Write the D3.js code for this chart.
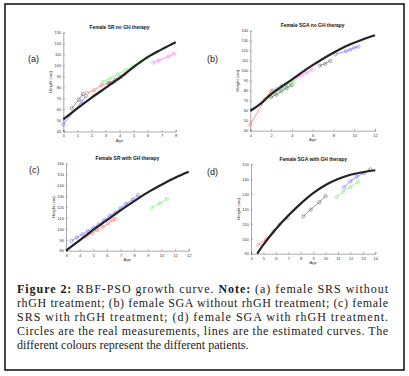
<!DOCTYPE html>
<html>
<head>
<meta charset="utf-8">
<script src="https://cdn.jsdelivr.net/npm/d3@7"></script>
<style>
  body { margin: 0; background: #fff; }
  svg { display: block; }
</style>
</head>
<body>
<div id="vis"></div>
<script>
// panel (a) female SR no GH therapy
const aCurve = [[0,51],[1,61],[2,70.5],[3,79.5],[4,88.5],[5,98.5],[6,107.5],[7,114.5],[8,121]]
const aBlue = [[0,46.5],[1.3,67],[1.6,72]]
const aGray1 = [[0.6,61],[1.1,69],[1.4,74]]
const aRed = [[1.7,75],[2.2,77.5],[2.7,82],[3.3,84],[3.9,88],[4.4,92]]
const aGreen = [[2.8,85],[3.3,88],[3.9,92],[4.5,96],[5,100],[5.5,103],[6,107],[6.7,112]]
const aGray2 = [[3.2,84],[3.7,87],[4.1,89.5]]
const aMagenta = [[6.4,102.5],[6.8,104.5],[7.5,108],[7.9,110.5]]

// panel (b) female SGA no GH therapy
const bCurve = [[0,60],[1,67],[1.5,72],[2,76.5],[3,84],[4,91],[5,98.5],[6,105.5],[7,112],[8,118],[9,123.5],[10,128],[11,132],[12,135.5]]
const bRed = [[0,46],[1.4,71],[2,80]]
const bGreen = [[1.5,72],[1.8,74],[2.1,76],[2.4,78],[2.7,80],[3,82],[3.3,83.5],[3.6,85.5],[3.9,87.5],[4.2,89]]
const bBlue1 = [[2.2,80],[2.6,82],[3,84.5],[3.4,86]]
const bGray1 = [[2,73.5],[2.5,76],[3,79.5],[3.5,82.5],[4,85.5]]
const bMagenta = [[4.4,93],[4.9,95.5],[5.4,98],[6,101]]
const bGray2 = [[6.7,105],[7.2,107],[7.7,110]]
const bBlue2 = [[8.2,116.5],[9.2,119.5],[9.6,121],[10,123],[10.4,124]]

// panel (c) female SR with GH therapy
const cCurve = [[3,80],[4,89.5],[5,99],[6,108],[7,117],[8,125.5],[9,133.5],[10,140.5],[11,147],[12,152.5]]
const cBlue = [[3.4,89],[3.8,92],[4.2,95],[4.6,98],[5,101],[5.4,104],[5.8,108],[6.2,112],[6.6,115],[7,119],[7.4,123],[7.9,127],[8.3,131]]
const cRed = [[4.5,93],[4.9,96],[5.3,99],[5.7,102],[6.1,105],[6.4,108],[6.6,109]]
const cGreen = [[9.3,119.5],[9.9,123.5],[10.4,127.5]]

// panel (d) female SGA with GH therapy
const dCurve = [[4.5,90],[5,96],[6,106.5],[7,115.5],[8,123.5],[9,130.5],[10,136],[11,140],[12,142.8],[13,144.5],[14,145.8]]
const dRed = [[4.6,96],[5.2,99.5],[5.8,105],[6.3,109.5],[7,114]]
const dGray = [[8.2,115],[8.8,119.5],[9.5,124.5],[10,128.5]]
const dGreen = [[10.9,128],[11.4,131.5],[12,134.5],[12.6,138]]
const dBlue = [[11.5,134.5],[12,138.5],[12.5,141.5],[13.1,144],[13.6,146.5]]

const captionLines = [
    "rhGH treatment; (b) female SGA without rhGH treatment; (c) female",
    "SRS with rhGH treatment; (d) female SGA with rhGH treatment.",
    "Circles are the real measurements, lines are the estimated curves. The",
    "different colours represent the different patients."
]

const blue = "#6f6fff", red = "#ff6f6f", green = "#6fee6f", gray = "#666", magenta = "#ff70ff"

const panels = [
    { label: "(a)", lx: 28, ly: 62, title: "Female SR no GH therapy",
      x: [63.3, 175.7], y: [131.5, 32.3], xd: [0, 8], yd: [40, 130],
      xt: d3.range(0, 9, 1), yt: d3.range(40, 131, 10), curve: aCurve,
      series: [[aBlue, blue], [aGray1, gray], [aRed, red], [aGreen, green], [aGray2, gray], [aMagenta, magenta]] },
    { label: "(b)", lx: 207, ly: 62, title: "Female SGA no GH therapy",
      x: [250.3, 375], y: [130.7, 30.7], xd: [0, 12], yd: [40, 140],
      xt: d3.range(0, 13, 2), yt: d3.range(40, 141, 10), curve: bCurve,
      series: [[bRed, red], [bGreen, green], [bBlue1, blue], [bGray1, gray], [bMagenta, magenta], [bGray2, gray], [bBlue2, blue]] },
    { label: "(c)", lx: 29, ly: 173, title: "Female SR with GH therapy",
      x: [66, 188.7], y: [250.7, 163.5], xd: [3, 12], yd: [80, 160],
      xt: d3.range(3, 13, 1), yt: d3.range(80, 161, 10), curve: cCurve,
      series: [[cBlue, blue], [cRed, red], [cGreen, green]] },
    { label: "(d)", lx: 207, ly: 175, title: "Female SGA with GH therapy",
      x: [251, 375.3], y: [253.7, 164], xd: [4, 14], yd: [90, 150],
      xt: d3.range(4, 15, 1), yt: d3.range(90, 151, 10), curve: dCurve,
      series: [[dRed, red], [dGray, gray], [dGreen, green], [dBlue, blue]] }
]

var svg = d3.select("#vis")
    .append("svg")
    .attr("width", 409)
    .attr("height", 376)

svg.append("rect")
    .attr("x", 5).attr("y", 4)
    .attr("width", 399).attr("height", 366)
    .attr("fill", "#fff")
    .attr("stroke", "#1a1a1a")
    .attr("stroke-width", 1.6)

panels.forEach(p => {
    var x = d3.scaleLinear().domain(p.xd).range(p.x)
    var y = d3.scaleLinear().domain(p.yd).range(p.y)
    var g = svg.append("g").attr("font-family", "Arial, 'Liberation Sans', sans-serif")

    var yAxis = g.append("g")
        .attr("transform", `translate(${p.x[0]},0)`)
        .call(d3.axisLeft(y).tickValues(p.yt).tickSize(-1.5).tickPadding(2))
    var xAxis = g.append("g")
        .attr("transform", `translate(0,${p.y[0]})`)
        .call(d3.axisBottom(x).tickValues(p.xt).tickSize(-1.5).tickPadding(3))
    ;[xAxis, yAxis].forEach(a => {
        a.selectAll("path, line").attr("stroke", "#555").attr("stroke-width", 0.5)
        a.selectAll("text").attr("font-size", 4).attr("fill", "#333")
    })

    g.append("text")
        .attr("x", (p.x[0] + p.x[1]) / 2).attr("y", p.y[1] - 3.5)
        .attr("text-anchor", "middle")
        .attr("font-size", 4.9).attr("font-weight", "bold").attr("fill", "#111")
        .text(p.title)
    g.append("text")
        .attr("transform", `translate(${p.x[0] - 11},${(p.y[0] + p.y[1]) / 2}) rotate(-90)`)
        .attr("text-anchor", "middle")
        .attr("font-size", 4.2).attr("fill", "#333")
        .text("Height (cm)")
    g.append("text")
        .attr("x", (p.x[0] + p.x[1]) / 2).attr("y", p.y[0] + 10)
        .attr("text-anchor", "middle")
        .attr("font-size", 4.2).attr("fill", "#333")
        .text("Age")

    var line = d3.line().x(d => x(d[0])).y(d => y(d[1]))

    p.series.forEach(([pts, col]) => {
        g.append("path")
            .attr("d", line(pts))
            .attr("fill", "none").attr("stroke", col).attr("stroke-width", 0.7)
        g.selectAll(null).data(pts).join("circle")
            .attr("cx", d => x(d[0])).attr("cy", d => y(d[1]))
            .attr("r", 1.6)
            .attr("fill", "none").attr("stroke", col).attr("stroke-width", 0.6)
    })

    g.append("path")
        .attr("d", line.curve(d3.curveMonotoneX)(p.curve))
        .attr("fill", "none").attr("stroke", "#222").attr("stroke-width", 2.2)

    svg.append("text")
        .attr("x", p.lx).attr("y", p.ly)
        .attr("font-family", "Arial, 'Liberation Sans', sans-serif")
        .attr("font-size", 9).attr("fill", "#222")
        .text(p.label)
})

// caption, justified line by line
var cap = svg.append("g")
    .attr("font-family", "'Liberation Serif', 'DejaVu Serif', serif")
    .attr("font-size", 12).attr("fill", "#1a1a1a")

var l1 = cap.append("text").attr("x", 17).attr("y", 293).attr("textLength", 371).attr("lengthAdjust", "spacing")
l1.append("tspan").attr("font-weight", "bold").text("Figure 2:")
l1.append("tspan").text(" RBF-PSO growth curve. ")
l1.append("tspan").attr("font-weight", "bold").text("Note:")
l1.append("tspan").text(" (a) female SRS without")

captionLines.forEach((t, i) => {
    var txt = cap.append("text").attr("x", 17).attr("y", 307 + i * 14).text(t)
    if (i < captionLines.length - 1) txt.attr("textLength", 371).attr("lengthAdjust", "spacing")
})
</script>
</body>
</html>
